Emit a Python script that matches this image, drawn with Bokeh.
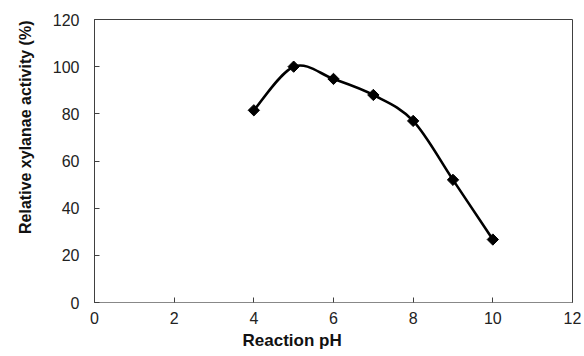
import numpy as np
from bokeh.plotting import figure
from bokeh.models import Range1d, FixedTicker, Title
from bokeh.embed import file_html
from bokeh.resources import INLINE

# Data
ph = [4, 5, 6, 7, 8, 9, 10]
activity = [81.5, 100.0, 94.8, 88.0, 77.0, 52.0, 26.7]
x_ticks = [0, 2, 4, 6, 8, 10, 12]
y_ticks = [0, 20, 40, 60, 80, 100, 120]
x_label = "Reaction pH"
y_label = "Relative xylanae activity (%)"

p = figure(width=584, height=356, output_backend="svg", toolbar_location=None,
           x_range=Range1d(0, 12), y_range=Range1d(0, 120),
           min_border_left=94, min_border_right=12, min_border_top=19, min_border_bottom=54)

p.xgrid.visible = False
p.ygrid.visible = False
p.outline_line_color = "#404040"
p.outline_line_width = 1

for ax, ticks in ((p.xaxis[0], x_ticks), (p.yaxis[0], y_ticks)):
    ax.ticker = FixedTicker(ticks=ticks)
    ax.major_tick_in = 5
    ax.major_tick_out = 0
    ax.minor_tick_in = 0
    ax.minor_tick_out = 0
    ax.major_tick_line_color = "#404040"
    ax.major_label_text_font = "Liberation Sans"
    ax.major_label_text_font_size = "16px"
    ax.major_label_text_color = "#222222"

p.xaxis[0].axis_line_color = "#888888"
p.yaxis[0].axis_line_color = "#404040"
p.xaxis[0].major_label_standoff = 9
p.yaxis[0].major_label_standoff = 15

# Smoothed curve (Catmull-Rom style Bezier, as Excel's smoothed line)
xa = np.array(ph, dtype=float)
ya = np.array(activity, dtype=float)
n = len(xa)
xp = np.concatenate([[xa[0]], xa, [xa[-1]]])
yp = np.concatenate([[ya[0]], ya, [ya[-1]]])
x0 = xa[:-1]; y0 = ya[:-1]; x1 = xa[1:]; y1 = ya[1:]
cx0 = x0 + (xp[2:n+1] - xp[0:n-1]) / 6.0
cy0 = y0 + (yp[2:n+1] - yp[0:n-1]) / 6.0
cx1 = x1 - (xp[3:n+2] - xp[1:n]) / 6.0
cy1 = y1 - (yp[3:n+2] - yp[1:n]) / 6.0
p.bezier(x0=x0, y0=y0, x1=x1, y1=y1, cx0=cx0, cy0=cy0, cx1=cx1, cy1=cy1,
         line_color="black", line_width=2.6)

p.scatter(ph, activity, marker="square", angle=np.pi / 4, size=8,
          fill_color="black", line_color="black", line_width=1)

p.add_layout(Title(text=x_label, align="left", offset=148, vertical_align="bottom",
                   standoff=4, text_font="Liberation Sans", text_font_size="17px",
                   text_font_style="bold", text_color="#111111"), "below")
p.add_layout(Title(text=y_label, align="right", offset=1, vertical_align="top",
                   standoff=28, text_font="Liberation Sans", text_font_size="16px",
                   text_font_style="bold", text_color="#111111"), "left")

open("out.html", "w").write(file_html(p, INLINE))
